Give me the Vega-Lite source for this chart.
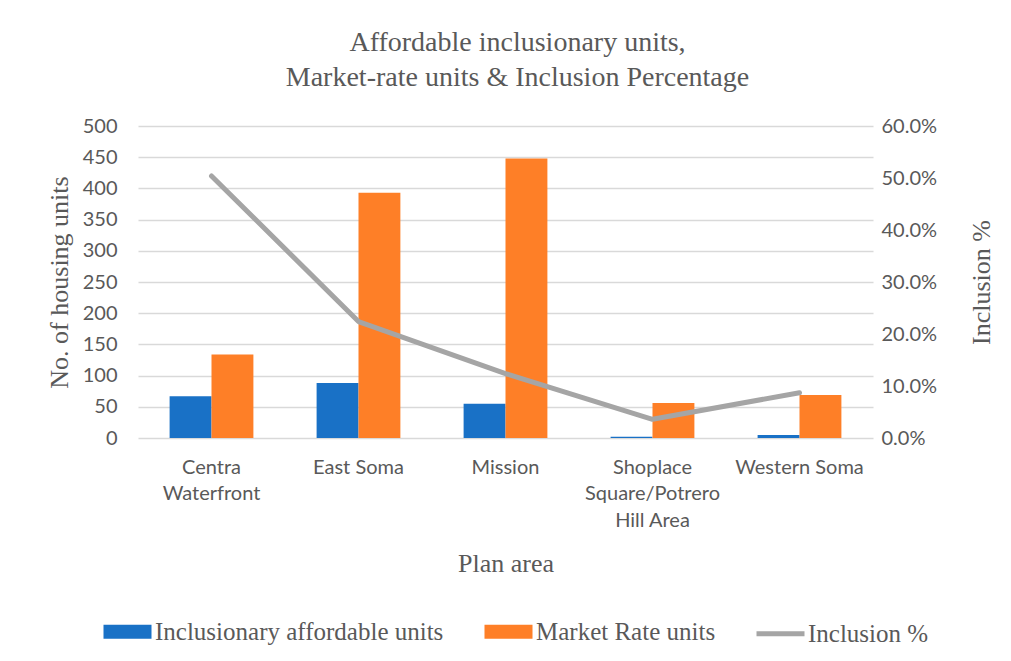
{
  "$schema": "https://vega.github.io/schema/vega-lite/v6.json",
  "width": 735,
  "height": 312,
  "autosize": {"type": "none"},
  "padding": {"left": 138, "top": 126, "right": 138, "bottom": 223},
  "background": "white",
  "title": {
    "text": ["Affordable inclusionary units,", "Market-rate units & Inclusion Percentage"],
    "font": "Liberation Serif",
    "fontSize": 28,
    "fontWeight": "normal",
    "color": "#595959",
    "anchor": "middle",
    "lineHeight": 35,
    "offset": 24,
    "dx": 12
  },
  "datasets": {
    "bars": [
      {"area": "Centra Waterfront", "series": "Inclusionary affordable units", "units": 67},
      {"area": "Centra Waterfront", "series": "Market Rate units", "units": 134},
      {"area": "East Soma", "series": "Inclusionary affordable units", "units": 88},
      {"area": "East Soma", "series": "Market Rate units", "units": 393},
      {"area": "Mission", "series": "Inclusionary affordable units", "units": 55},
      {"area": "Mission", "series": "Market Rate units", "units": 448},
      {"area": "Shoplace Square/Potrero Hill Area", "series": "Inclusionary affordable units", "units": 2},
      {"area": "Shoplace Square/Potrero Hill Area", "series": "Market Rate units", "units": 56},
      {"area": "Western Soma", "series": "Inclusionary affordable units", "units": 5},
      {"area": "Western Soma", "series": "Market Rate units", "units": 69}
    ],
    "line": [
      {"area": "Centra Waterfront", "pct": 0.504},
      {"area": "East Soma", "pct": 0.224},
      {"area": "Mission", "pct": 0.124},
      {"area": "Shoplace Square/Potrero Hill Area", "pct": 0.036},
      {"area": "Western Soma", "pct": 0.087}
    ]
  },
  "config": {
    "view": {"stroke": null},
    "axis": {
      "labelFont": "Lato",
      "labelFontSize": 20,
      "labelColor": "#595959",
      "titleFont": "Liberation Serif",
      "titleFontSize": 26,
      "titleFontWeight": "normal",
      "titleColor": "#595959",
      "ticks": false,
      "domain": false,
      "gridColor": "#d9d9d9",
      "gridWidth": 1.3
    }
  },
  "layer": [
    {
      "data": {"name": "bars"},
      "mark": {"type": "bar"},
      "encoding": {
        "x": {
          "field": "area",
          "type": "nominal",
          "sort": null,
          "scale": {"paddingInner": 0.43, "paddingOuter": 0.215},
          "axis": {
            "title": "Plan area",
            "labelAngle": 0,
            "labelPadding": 19,
            "labelLineHeight": 26.5,
            "titlePadding": 20,
            "grid": false,
            "labelExpr": "datum.label == 'Centra Waterfront' ? ['Centra', 'Waterfront'] : datum.label == 'Shoplace Square/Potrero Hill Area' ? ['Shoplace', 'Square/Potrero', 'Hill Area'] : datum.label"
          }
        },
        "xOffset": {"field": "series", "type": "nominal", "scale": {"paddingInner": 0, "paddingOuter": 0}},
        "y": {
          "field": "units",
          "type": "quantitative",
          "scale": {"domain": [0, 500]},
          "axis": {
            "title": "No. of housing units",
            "values": [0, 50, 100, 150, 200, 250, 300, 350, 400, 450, 500],
            "labelPadding": 21,
            "titlePadding": 10
          }
        },
        "color": {
          "field": "series",
          "type": "nominal",
          "scale": {
            "domain": ["Inclusionary affordable units", "Market Rate units", "Inclusion %"],
            "range": ["#1971c6", "#fe7f27", "#a5a5a5"]
          },
          "legend": {
            "title": null,
            "orient": "none",
            "legendX": -37,
            "legendY": 479,
            "direction": "horizontal",
            "columns": 3,
            "columnPadding": 30,
            "labelFont": "Liberation Serif",
            "labelFontSize": 25,
            "labelColor": "#595959",
            "labelOffset": 1,
            "labelLimit": 0,
            "symbolSize": 2304,
            "symbolStrokeWidth": 5,
            "symbolType": "M-1,-0.29H1V0.29H-1Z",
            "encode": {
              "symbols": {
                "update": {
                  "shape": {"signal": "datum.value === 'Inclusion %' ? 'stroke' : 'M-1,-0.29H1V0.29H-1Z'"},
                  "stroke": {"signal": "datum.value === 'Inclusion %' ? '#a5a5a5' : 'transparent'"}
                }
              }
            }
          }
        }
      }
    },
    {
      "data": {"name": "line"},
      "mark": {"type": "line", "color": "#a5a5a5", "strokeWidth": 5, "strokeCap": "round", "strokeJoin": "round"},
      "encoding": {
        "x": {"field": "area", "type": "nominal", "sort": null},
        "y": {
          "field": "pct",
          "type": "quantitative",
          "scale": {"domain": [0, 0.6]},
          "axis": {
            "orient": "right",
            "title": "Inclusion %",
            "format": ".1%",
            "grid": false,
            "values": [0, 0.1, 0.2, 0.3, 0.4, 0.5, 0.6],
            "labelPadding": 8,
            "titleAngle": 270,
            "titlePadding": 58
          }
        }
      }
    }
  ],
  "resolve": {"scale": {"y": "independent"}}
}
